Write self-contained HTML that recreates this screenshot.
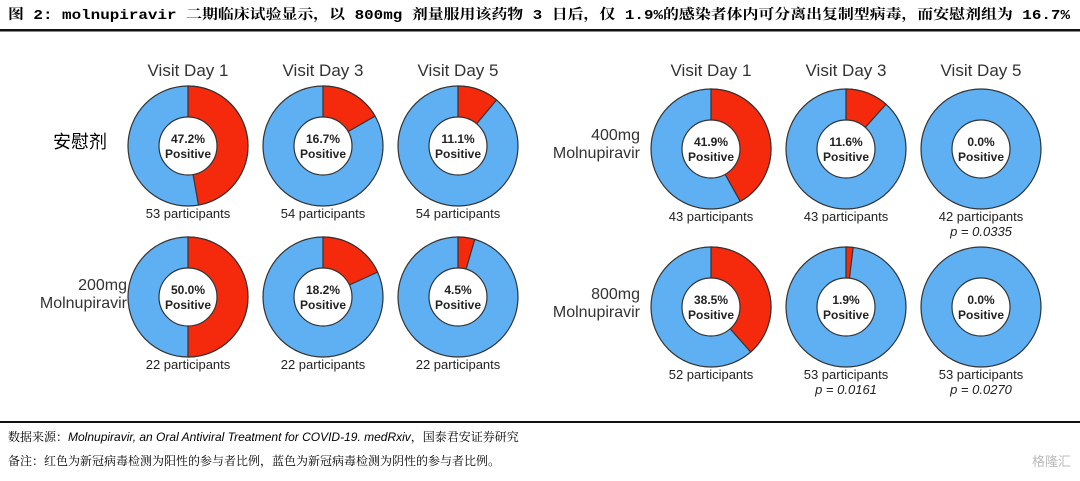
<!DOCTYPE html>
<html><head><meta charset="utf-8"><style>
body{margin:0;background:#fff;width:1080px;height:476px;overflow:hidden;font-family:"Liberation Sans","Noto Sans CJK SC",sans-serif}
</style></head><body>
<svg id="chart" width="1080" height="476" xmlns="http://www.w3.org/2000/svg">
<text x="8" y="19" font-size="14" font-weight="bold" textLength="1062" lengthAdjust="spacingAndGlyphs" font-family="'Liberation Mono','Noto Serif CJK SC',serif">图 2: molnupiravir 二期临床试验显示，以 800mg 剂量服用该药物 3 日后，仅 1.9%的感染者体内可分离出复制型病毒，而安慰剂组为 16.7%</text>
<rect x="0" y="29" width="1080" height="2.5" fill="#111"/>
<rect x="0" y="421" width="1080" height="2" fill="#111"/>
<text x="8" y="441" font-size="12" font-family="'Liberation Sans','Noto Serif CJK SC',sans-serif">数据来源：<tspan font-style="italic">Molnupiravir, an Oral Antiviral Treatment for COVID-19. medRxiv</tspan>，国泰君安证券研究</text>
<text x="8" y="465" font-size="12" font-family="'Liberation Serif','Noto Serif CJK SC',serif">备注：红色为新冠病毒检测为阳性的参与者比例，蓝色为新冠病毒检测为阴性的参与者比例。</text>
<text x="1032" y="466" font-size="13" fill="#bbb">格隆汇</text>
<g id="g"></g>
</svg>
<script>
const groups = ["安慰剂","200mg Molnupiravir","400mg Molnupiravir","800mg Molnupiravir"];
const days = ["Visit Day 1","Visit Day 3","Visit Day 5"];
const positive = [[47.2,16.7,11.1],[50.0,18.2,4.5],[41.9,11.6,0.0],[38.5,1.9,0.0]];
const participants = [[53,54,54],[22,22,22],[43,43,42],[52,53,53]];
const pvals = [["","",""],["","",""],["","","0.0335"],["","0.0161","0.0270"]];
const layout=[{xs:[188,323,458],cy:146,lx:80,ly:142,single:true},{xs:[188,323,458],cy:297,lx:127,ly:284},
{xs:[711,846,981],cy:149,lx:640,ly:134},{xs:[711,846,981],cy:307,lx:640,ly:293}];
const g=document.getElementById('g');const NS='http://www.w3.org/2000/svg';
function mk(t,a,txt){const e=document.createElementNS(NS,t);for(const k in a)e.setAttribute(k,a[k]);if(txt!=null)e.textContent=txt;g.appendChild(e);return e;}
const R=60,r=29;
days.forEach((d,i)=>{[0,2].forEach(gi=>{const t=mk('text',{x:layout[gi].xs[i],y:76,'font-size':17,'text-anchor':'middle',fill:'#333'},d);

});});
groups.forEach((gn,gi)=>{const L=layout[gi];
if(L.single){const t=mk('text',{x:L.lx,y:L.ly+6,'font-size':18,'text-anchor':'middle'},gn);

}
else{const p=gn.split(' ');[0,1].forEach(k=>{const t=mk('text',{x:L.lx,y:L.ly+6+k*18,'font-size':16,'text-anchor':'end',fill:'#333'},p[k]);

});}
days.forEach((d,i)=>{const cx=L.xs[i],cy=L.cy,v=positive[gi][i];
const c=mk('circle',{cx,cy,r:R,fill:'#5eb0f2',stroke:'#333','stroke-width':1.2});


if(v>0){const a=v/100*2*Math.PI;const x1=cx+R*Math.sin(a),y1=cy-R*Math.cos(a);
const pth=mk('path',{d:`M${cx},${cy} L${cx},${cy-R} A${R},${R} 0 ${v>50?1:0} 1 ${x1},${y1} Z`,fill:'#f52a0c',stroke:'#333','stroke-width':1.2});

}
const h=mk('circle',{cx,cy,r,fill:'#fff',stroke:'#333','stroke-width':1.2});


const t1=mk('text',{x:cx,y:cy-3,'font-size':12,'font-weight':'bold','text-anchor':'middle',fill:'#222'},v.toFixed(1)+'%');


const t2=mk('text',{x:cx,y:cy+12,'font-size':12,'font-weight':'bold','text-anchor':'middle',fill:'#222'},'Positive');


const t3=mk('text',{x:cx,y:cy+R+12,'font-size':13,'text-anchor':'middle',fill:'#222'},participants[gi][i]+' participants');


if(pvals[gi][i]){const t4=mk('text',{x:cx,y:cy+R+27,'font-size':13,'font-style':'italic','text-anchor':'middle',fill:'#222'},'p = '+pvals[gi][i]);

}
});});
</script>
</body></html>
